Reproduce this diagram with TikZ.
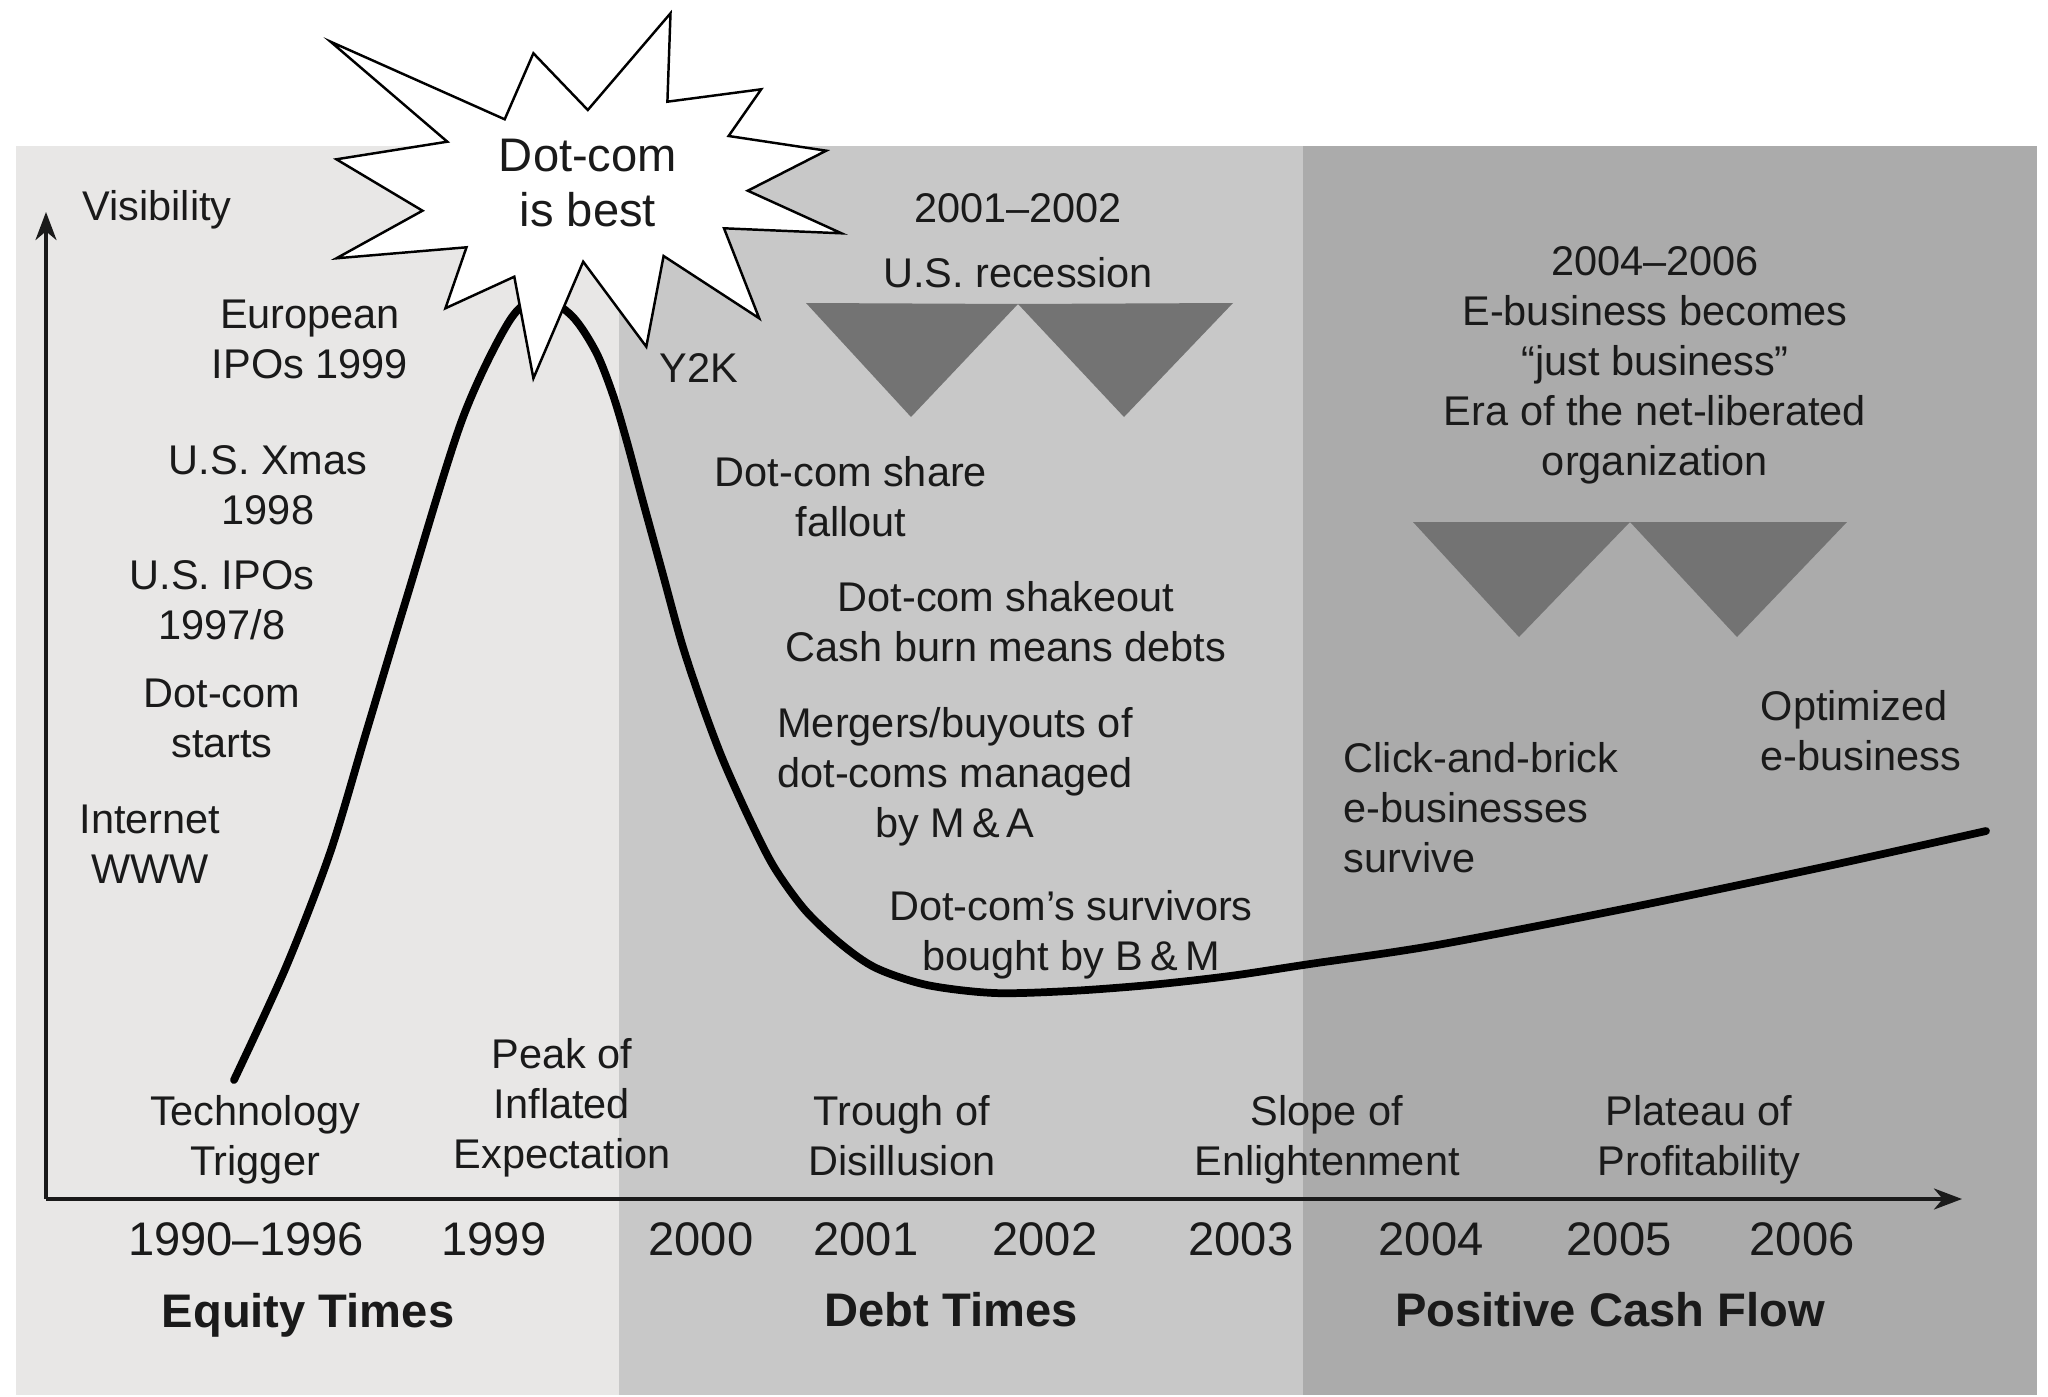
\documentclass[tikz,border=0pt]{standalone}
\usepackage{fontspec}
\setmainfont{Liberation Sans}
\usetikzlibrary{arrows.meta}

\definecolor{equitybg}{HTML}{E8E7E6}
\definecolor{debtbg}{HTML}{C8C8C8}
\definecolor{cashbg}{HTML}{ABABAB}
\definecolor{dipgray}{HTML}{737373}
\definecolor{ink}{HTML}{1A1A1A}

\tikzset{
  lbl/.style={font=\fontsize{11.8}{14.2}\selectfont, align=center, inner sep=0pt, text=ink},
  lblleft/.style={lbl, align=left, anchor=west},
  yearlbl/.style={font=\fontsize{13.4}{16}\selectfont, inner sep=0pt, text=ink},
  eralbl/.style={font=\fontsize{13.4}{16}\selectfont\bfseries, inner sep=0pt, text=ink},
  bursttext/.style={font=\fontsize{13.4}{15.6}\selectfont, align=center, inner sep=0pt, text=ink},
  axisline/.style={line width=0.9pt, draw=ink, -{Stealth[length=8pt,width=6pt,inset=2.5pt]}},
  hypecurve/.style={line width=2.2pt, draw=black, line cap=round, line join=round},
  dipmark/.style={fill=dipgray, draw=none},
  burstshape/.style={fill=white, draw=black, line width=0.7pt, line join=miter},
}

\begin{document}
\begin{tikzpicture}[x=0.01cm, y=-0.01cm]
  \path[use as bounding box] (0,0) rectangle (2048,1397);

  % era backgrounds
  \fill[equitybg] (16,146) rectangle (619,1395);
  \fill[debtbg]   (619,146) rectangle (1303,1395);
  \fill[cashbg]   (1303,146) rectangle (2037,1395);

  % recession markers
  \fill[dipmark] (806,303) -- (1018,304) -- (911,417) -- cycle;
  \fill[dipmark] (1018,304) -- (1233,303) -- (1124,417) -- cycle;
  % e-business markers
  \fill[dipmark] (1413,522) -- (1630,522) -- (1519,637) -- cycle;
  \fill[dipmark] (1630,522) -- (1847,522) -- (1737,637) -- cycle;

  % axes
  \coordinate (origin) at (46,1199);
  \coordinate (ytip) at (46,212);
  \coordinate (xtip) at (1962,1199);
  \draw[axisline] (origin) -- (ytip);
  \draw[axisline] (origin) -- (xtip);

  % hype cycle curve
  \draw[hypecurve] plot[smooth, tension=0.5] coordinates {
    (234,1080) (286,967) (330,853) (366,733) (406,600) (462,420)
    (510,320) (541,298) (572,316) (596,352) (613,395) (627,442)
    (642,498) (662,571) (682,644) (703,707) (723,760) (749,818)
    (774,867) (805,910) (841,944) (876,968) (927,985) (994,993)
    (1070,991) (1150,985) (1230,976) (1310,964) (1437,945)
    (1633,907) (1828,866) (1986,831)};

  % starburst
  \draw[burstshape]
    (330.6,41.7) -- (504.7,119.3) -- (533.4,53.3) -- (587.8,110) --
    (670.5,13.3) -- (667.4,101.7) -- (761.2,89.3) -- (728.6,136) --
    (826.2,150.7) -- (747.8,190.7) -- (841.5,233.3) -- (724.0,228.3) --
    (759.2,318.3) -- (663.6,256) -- (646.3,346.7) -- (583.2,261.7) --
    (533.4,378.3) -- (514.3,276.7) -- (445.4,308.3) -- (466.5,247.3) --
    (336.4,258.3) -- (422.5,210.7) -- (336.4,159.3) -- (447.3,141.7) -- cycle;
  \node[bursttext] (burst) at (588,183) {Dot-com\\is best};

  % axis title
  \node[lbl] (vis) at (157,210) {Visibility};

  % rising slope events
  \node[lbl] (euro) at (310,339) {European\\IPOs 1999};
  \node[lbl] (xmas) at (268,485) {U.S. Xmas\\1998};
  \node[lbl] (usipo) at (222,600) {U.S. IPOs\\1997/8};
  \node[lbl] (dcstart) at (222,718) {Dot-com\\starts};
  \node[lbl] (www) at (150,844) {Internet\\WWW};

  % falling slope and trough events
  \node[lbl] (y2k) at (699,368) {Y2K};
  \node[lbl] (recyears) at (1018,208) {2001--2002};
  \node[lbl] (recession) at (1018,273) {U.S. recession};
  \node[lbl] (fallout) at (851,497) {Dot-com share\\fallout};
  \node[lbl] (shakeout) at (1006,622) {Dot-com shakeout\\Cash burn means debts};
  \node[lbl] (mergers) at (955,777) {Mergers/buyouts of\\dot-coms managed\\by M\,\&\,A};
  \node[lbl] (survivors) at (1071,935) {Dot-com’s survivors\\bought by B\,\&\,M};

  % recovery events
  \node[lbl] (justbiz) at (1655,365) {2004--2006\\E-business becomes\\“just business”\\Era of the net-liberated\\organization};
  \node[lblleft] (clickbrick) at (1343,808) {Click-and-brick\\e-businesses\\survive};
  \node[lblleft] (optimized) at (1760,731) {Optimized\\e-business};

  % phase names
  \node[lbl] (trigger) at (255,1140) {Technology\\Trigger};
  \node[lbl] (peak) at (562,1108) {Peak of\\Inflated\\Expectation};
  \node[lbl] (trough) at (902,1136) {Trough of\\Disillusion};
  \node[lbl] (slope) at (1327,1140) {Slope of\\Enlightenment};
  \node[lbl] (plateau) at (1699,1140) {Plateau of\\Profitability};

  % years
  \node[yearlbl] (y9096) at (246,1239) {1990--1996};
  \node[yearlbl] (y1999) at (494,1239) {1999};
  \node[yearlbl] (y2000) at (701,1239) {2000};
  \node[yearlbl] (y2001) at (866,1239) {2001};
  \node[yearlbl] (y2002) at (1045,1239) {2002};
  \node[yearlbl] (y2003) at (1241,1239) {2003};
  \node[yearlbl] (y2004) at (1431,1239) {2004};
  \node[yearlbl] (y2005) at (1619,1239) {2005};
  \node[yearlbl] (y2006) at (1802,1239) {2006};

  % eras
  \node[eralbl] (equity) at (308,1315) {Equity Times};
  \node[eralbl] (debt) at (951,1310) {Debt Times};
  \node[eralbl] (cash) at (1610,1310) {Positive Cash Flow};
\end{tikzpicture}
\end{document}
